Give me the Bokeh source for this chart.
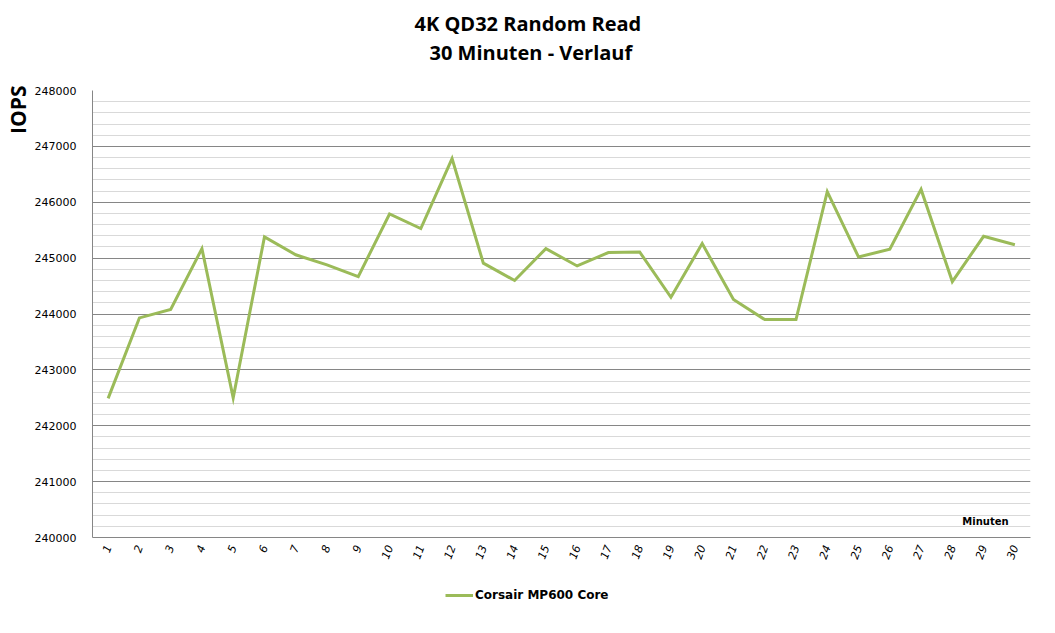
from bokeh.plotting import figure
from bokeh.layouts import column
from bokeh.models import (SingleIntervalTicker, BasicTickFormatter, Label, Legend, LegendItem,
                          Range1d, Title)
from bokeh.embed import file_html
from bokeh.resources import INLINE

minutes = [str(i) for i in range(1, 31)]
iops = [242490, 243930, 244080, 245170, 242500, 245380, 245060, 244880, 244670, 245790,
        245530, 246780, 244910, 244600, 245170, 244860, 245100, 245110, 244300, 245260,
        244260, 243900, 243900, 246190, 245020, 245160, 246230, 244580, 245390, 245240]
series_name = "Corsair MP600 Core"
title_lines = ["4K QD32 Random Read", "30 Minuten - Verlauf"]
y_label = "IOPS"
x_label = "Minuten"
y_min, y_max = 240000, 248000
line_color = "#9BBB59"

p = figure(frame_width=938, frame_height=447, x_range=minutes, y_range=Range1d(y_min, y_max),
           output_backend="svg", toolbar_location=None, title=None,
           min_border_left=92, min_border_right=9, min_border_top=90, min_border_bottom=30)
p.outline_line_color = None
p.background_fill_color = "white"
p.border_fill_color = "white"

r = p.line(x=minutes, y=iops, line_color=line_color, line_width=3, line_join="miter")

# y axis
yax = p.yaxis[0]
yax.ticker = SingleIntervalTicker(interval=1000, num_minor_ticks=5)
yax.formatter = BasicTickFormatter(use_scientific=False)
yax.axis_line_color = "#868686"
yax.major_tick_line_color = None
yax.minor_tick_line_color = None
yax.major_tick_out = 0
yax.major_label_standoff = 12
yax.major_label_text_font = "DejaVu Sans"
yax.major_label_text_font_size = "11px"
yax.major_label_text_color = "black"

# x axis
xax = p.xaxis[0]
xax.axis_line_color = "#868686"
xax.major_tick_line_color = None
xax.minor_tick_line_color = None
xax.major_tick_out = 0
xax.major_label_orientation = 1.22
xax.major_label_standoff = 8
xax.major_label_text_font = "DejaVu Sans"
xax.major_label_text_font_size = "11px"
xax.major_label_text_font_style = "italic"
xax.major_label_text_color = "black"

p.xgrid.grid_line_color = None
p.ygrid.grid_line_color = "#868686"
p.ygrid.minor_grid_line_color = "#D9D9D9"

# titles (first added sits closest to the plot)
p.add_layout(Title(text=" ", text_font_size="10px", standoff=12), "above")
p.add_layout(Title(text=title_lines[1], align="left", offset=337, standoff=0,
                   text_font="Open Sans", text_font_style="bold", text_font_size="20px",
                   text_color="black"), "above")
p.add_layout(Title(text=title_lines[0], align="left", offset=322, standoff=0,
                   text_font="Open Sans", text_font_style="bold", text_font_size="20px",
                   text_color="black"), "above")

p.add_layout(Title(text=y_label, align="right", offset=-5, standoff=0,
                   text_font="Open Sans", text_font_style="bold", text_font_size="21px",
                   text_color="black"), "left")

p.add_layout(Label(x=893, y=16, x_units="screen", y_units="screen", text=x_label,
                   text_align="center", text_baseline="middle", text_font="DejaVu Sans",
                   text_font_style="bold", text_font_size="10px", text_color="black"))

# legend strip below the chart (its line lies outside the strip's range, only the key shows)
pl = figure(width=1039, height=50, x_range=p.x_range, y_range=Range1d(0, 1),
            output_backend="svg", toolbar_location=None, title=None,
            min_border=0, x_axis_type=None, y_axis_type=None)
pl.outline_line_color = None
pl.xgrid.visible = False
pl.ygrid.visible = False
rl = pl.line(x=minutes, y=iops, line_color=line_color, line_width=3)
legend = Legend(items=[LegendItem(label=series_name, renderers=[rl])],
                orientation="horizontal", location=(353, 15),
                label_text_font="DejaVu Sans", label_text_font_style="bold",
                label_text_font_size="12px", label_text_color="black",
                glyph_width=28, glyph_height=14, label_standoff=2,
                border_line_color=None, background_fill_alpha=0, margin=0, padding=4)
pl.add_layout(legend)

layout = column(p, pl, spacing=0)
open("out.html", "w").write(file_html(layout, INLINE))
